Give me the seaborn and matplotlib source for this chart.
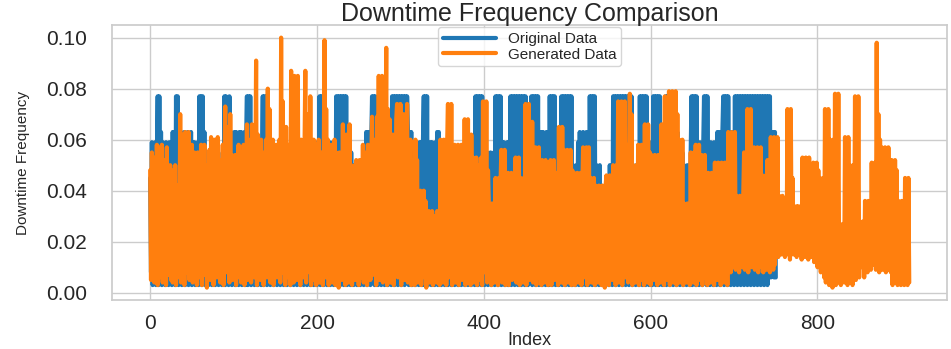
import numpy as np
import pandas as pd
import matplotlib
matplotlib.use("Agg")
import matplotlib.pyplot as plt
import seaborn as sns

# downtime frequency, values in thousandths
original_x1000 = [
    45, 8, 59, 3, 55, 15, 59, 3, 50, 77,
    3, 77, 8, 63, 3, 59, 23, 55, 3, 59,
    8, 50, 3, 59, 15, 45, 3, 63, 8, 63,
    3, 77, 23, 77, 3, 63, 8, 63, 3, 59,
    15, 63, 3, 55, 8, 63, 3, 50, 23, 63,
    3, 59, 8, 59, 3, 55, 15, 59, 3, 77,
    8, 77, 3, 77, 23, 63, 3, 50, 8, 45,
    3, 50, 15, 45, 3, 48, 8, 55, 3, 50,
    23, 55, 3, 50, 8, 45, 3, 55, 15, 77,
    3, 77, 8, 63, 3, 77, 8, 63, 3, 59,
    15, 63, 3, 63, 8, 59, 3, 63, 23, 63,
    3, 55, 8, 63, 3, 59, 77, 3, 77, 15,
    77, 3, 63, 8, 55, 3, 50, 15, 55, 3,
    45, 8, 55, 3, 50, 77, 3, 77, 8, 77,
    3, 50, 15, 45, 3, 50, 8, 38, 3, 45,
    23, 45, 3, 38, 8, 45, 3, 31, 15, 45,
    3, 38, 8, 45, 3, 31, 23, 45, 3, 50,
    8, 45, 3, 50, 15, 38, 3, 50, 8, 45,
    3, 50, 23, 45, 3, 55, 8, 50, 3, 55,
    15, 59, 3, 55, 8, 59, 3, 59, 23, 55,
    3, 59, 8, 77, 3, 77, 15, 77, 3, 59,
    8, 59, 3, 55, 23, 59, 3, 50, 8, 59,
    3, 55, 15, 77, 3, 77, 8, 77, 3, 77,
    23, 77, 3, 77, 8, 77, 3, 55, 15, 50,
    3, 55, 8, 45, 3, 50, 23, 45, 3, 50,
    8, 45, 3, 50, 15, 45, 3, 50, 8, 63,
    3, 63, 23, 63, 3, 59, 77, 8, 77, 3,
    77, 15, 59, 3, 55, 8, 59, 3, 50, 23,
    59, 3, 55, 8, 59, 3, 50, 15, 59, 3,
    77, 8, 77, 3, 77, 23, 77, 3, 77, 8,
    77, 3, 77, 15, 77, 3, 77, 8, 77, 63,
    3, 63, 23, 63, 3, 59, 8, 59, 3, 59,
    15, 55, 3, 59, 8, 59, 3, 59, 77, 3,
    77, 8, 77, 3, 45, 23, 59, 3, 59, 8,
    55, 3, 59, 15, 63, 3, 63, 8, 45, 3,
    50, 23, 45, 3, 50, 8, 45, 3, 55, 15,
    50, 3, 45, 8, 55, 3, 50, 23, 45, 3,
    50, 8, 55, 3, 45, 15, 50, 3, 55, 8,
    45, 3, 50, 23, 55, 3, 45, 8, 50, 3,
    77, 15, 77, 3, 77, 8, 77, 3, 77, 23,
    55, 3, 50, 8, 55, 3, 45, 15, 55, 3,
    50, 8, 55, 3, 77, 23, 77, 3, 77, 8,
    77, 3, 59, 15, 59, 3, 55, 8, 59, 3,
    59, 23, 77, 3, 77, 8, 77, 3, 77, 15,
    77, 3, 77, 8, 77, 3, 77, 23, 77, 3,
    77, 8, 59, 3, 59, 15, 59, 77, 3, 77,
    8, 77, 3, 77, 23, 77, 3, 63, 8, 63,
    3, 63, 15, 59, 3, 63, 8, 63, 3, 77,
    23, 77, 3, 77, 8, 77, 3, 55, 15, 50,
    3, 55, 8, 77, 3, 77, 23, 77, 3, 77,
    8, 77, 3, 77, 15, 77, 3, 50, 8, 45,
    3, 50, 23, 59, 3, 63, 8, 59, 3, 63,
    15, 59, 3, 63, 8, 59, 3, 77, 23, 77,
    3, 77, 8, 77, 3, 50, 15, 45, 3, 50,
    8, 42, 3, 38, 23, 42, 3, 38, 8, 42,
    3, 50, 15, 45, 3, 77, 8, 77, 3, 77,
    23, 77, 3, 77, 8, 77, 3, 77, 15, 77,
    3, 77, 8, 77, 3, 77, 23, 77, 3, 50,
    8, 45, 3, 50, 15, 45, 3, 77, 8, 77,
    3, 77, 23, 77, 3, 77, 8, 59, 3, 55,
    15, 59, 3, 77, 8, 77, 3, 77, 23, 77,
    3, 77, 8, 59, 3, 59, 15, 63, 77, 3,
    77, 8, 77, 3, 59, 23, 63, 3, 59, 8,
    59, 3, 63, 15, 59, 3, 59, 8, 55, 3,
    50, 23, 45, 3, 50, 8, 45, 3, 55, 77,
    3, 77, 15, 77, 3, 77, 8, 55, 3, 59,
    23, 55, 3, 57, 77, 8, 77, 3, 77, 15,
    55, 3, 59, 8, 55, 3, 59, 23, 55, 3,
    63, 8, 63, 3, 59, 15, 63, 77, 3, 77,
    8, 77, 3, 77, 23, 63, 3, 63, 8, 59,
    3, 77, 8, 77, 3, 77, 15, 77, 3, 77,
    8, 77, 3, 77, 23, 77, 3, 77, 8, 77,
    3, 77, 8, 77, 3, 77, 15, 77, 3, 77,
    8, 77, 3, 77, 23, 77, 3, 77, 8, 77,
    3, 77, 8, 77, 6, 63, 8, 63, 6, 63,
    6,
]

generated_x1000 = [
    48, 5, 55, 12, 40, 4, 53, 20, 58, 3,
    57, 6, 45, 15, 58, 4, 38, 9, 52, 3,
    57, 7, 44, 18, 50, 5, 32, 4, 48, 11,
    50, 3, 42, 22, 36, 6, 70, 4, 62, 15,
    45, 3, 63, 8, 55, 20, 63, 5, 40, 12,
    58, 4, 30, 55, 9, 48, 3, 55, 14, 38,
    6, 58, 3, 45, 25, 58, 7, 50, 2, 41,
    18, 56, 5, 61, 11, 47, 3, 60, 22, 35,
    6, 61, 9, 52, 4, 44, 17, 58, 3, 49,
    73, 8, 65, 12, 48, 4, 70, 20, 54, 5,
    50, 9, 54, 3, 42, 16, 58, 6, 37, 4,
    55, 12, 58, 3, 46, 24, 66, 5, 60, 10,
    44, 4, 66, 15, 52, 6, 40, 91, 3, 62,
    20, 58, 5, 60, 9, 47, 3, 55, 18, 60,
    6, 80, 11, 72, 4, 50, 16, 60, 3, 45,
    22, 58, 6, 41, 12, 60, 4, 100, 8, 75,
    20, 52, 3, 65, 14, 58, 6, 47, 3, 87,
    10, 60, 4, 85, 19, 70, 5, 85, 12, 56,
    3, 60, 16, 45, 6, 55, 87, 4, 62, 25,
    70, 8, 77, 3, 50, 17, 60, 5, 44, 3,
    58, 13, 60, 4, 35, 21, 55, 3, 48, 99,
    6, 72, 15, 60, 3, 52, 9, 58, 4, 40,
    17, 60, 3, 55, 8, 47, 2, 55, 20, 38,
    5, 66, 10, 58, 3, 62, 24, 45, 4, 66,
    12, 50, 3, 44, 18, 50, 5, 52, 8, 40,
    3, 52, 22, 46, 6, 58, 4, 55, 13, 48,
    3, 58, 19, 35, 5, 50, 69, 7, 60, 12,
    45, 3, 69, 15, 85, 5, 62, 9, 85, 4,
    70, 20, 50, 96, 3, 72, 11, 68, 4, 55,
    18, 62, 3, 45, 9, 68, 74, 6, 58, 15,
    74, 3, 50, 22, 70, 5, 62, 10, 74, 4,
    48, 16, 60, 3, 52, 8, 45, 3, 60, 12,
    52, 4, 38, 15, 40, 3, 32, 20, 40, 6,
    36, 2, 28, 12, 32, 4, 25, 8, 32, 3,
    30, 15, 22, 4, 32, 10, 28, 3, 60, 9,
    52, 4, 60, 18, 45, 3, 58, 74, 6, 62,
    12, 74, 3, 55, 20, 58, 4, 48, 9, 58,
    3, 52, 16, 58, 5, 40, 8, 68, 3, 55,
    22, 68, 6, 50, 3, 62, 15, 53, 4, 45,
    10, 53, 3, 38, 18, 50, 5, 53, 3, 75,
    8, 70, 15, 75, 4, 48, 35, 9, 30, 3,
    35, 14, 28, 4, 45, 20, 38, 3, 45, 10,
    42, 56, 4, 50, 17, 56, 3, 45, 8, 47,
    3, 40, 12, 47, 5, 35, 20, 42, 53, 4,
    48, 9, 53, 3, 45, 15, 38, 4, 45, 10,
    74, 3, 60, 18, 74, 5, 65, 9, 67, 4,
    55, 14, 57, 3, 50, 20, 57, 6, 45, 3,
    52, 11, 48, 4, 52, 18, 40, 3, 50, 8,
    52, 3, 44, 15, 52, 5, 38, 9, 47, 3,
    65, 12, 58, 4, 65, 20, 56, 3, 50, 10,
    56, 4, 45, 16, 56, 3, 48, 8, 47, 3,
    40, 14, 47, 4, 42, 21, 47, 3, 38, 57,
    6, 50, 15, 57, 3, 48, 57, 9, 45, 4,
    40, 18, 45, 3, 42, 10, 38, 4, 42, 16,
    35, 3, 42, 8, 40, 2, 42, 46, 12, 40,
    3, 46, 20, 38, 5, 50, 9, 45, 3, 50,
    15, 75, 4, 68, 11, 75, 3, 60, 22, 75,
    6, 58, 50, 4, 45, 78, 8, 70, 3, 50,
    17, 45, 4, 50, 12, 58, 3, 52, 20, 58,
    5, 50, 3, 66, 15, 60, 4, 66, 9, 55,
    3, 54, 18, 48, 5, 54, 10, 45, 3, 54,
    20, 50, 4, 66, 8, 60, 3, 77, 14, 66,
    5, 66, 79, 3, 72, 12, 79, 4, 65, 18,
    79, 3, 70, 8, 60, 4, 55, 15, 60, 3,
    35, 20, 30, 4, 35, 12, 28, 3, 55, 16,
    45, 4, 55, 10, 58, 3, 50, 18, 58, 5,
    44, 54, 3, 48, 14, 54, 6, 40, 3, 47,
    20, 42, 4, 47, 9, 38, 3, 51, 15, 45,
    5, 51, 10, 40, 3, 51, 18, 46, 4, 51,
    12, 44, 3, 63, 20, 55, 8, 63, 10, 58,
    14, 63, 9, 38, 12, 30, 8, 38, 16, 33,
    10, 38, 55, 9, 48, 14, 72, 8, 60, 12,
    72, 10, 50, 15, 57, 9, 45, 12, 57, 8,
    50, 14, 57, 10, 46, 8, 40, 13, 46, 9,
    52, 12, 45, 8, 61, 14, 55, 9, 61, 11,
    48, 15, 61, 14, 38, 16, 32, 15, 38, 18,
    30, 14, 36, 16, 72, 15, 60, 13, 72, 16,
    45, 15, 34, 17, 30, 14, 34, 16, 28, 15,
    34, 13, 53, 16, 45, 14, 53, 15, 40, 13,
    53, 16, 40, 14, 35, 51, 12, 45, 15, 51,
    10, 48, 14, 45, 8, 40, 12, 45, 6, 72,
    4, 65, 10, 72, 3, 60, 5, 55, 2, 60,
    8, 78, 3, 70, 12, 78, 4, 27, 3, 25,
    12, 27, 4, 61, 9, 55, 3, 61, 4, 50,
    8, 45, 3, 50, 10, 77, 5, 70, 12, 77,
    6, 28, 10, 25, 14, 28, 6, 36, 12, 30,
    8, 36, 11, 33, 9, 51, 14, 45, 11, 51,
    9, 98, 12, 70, 8, 60, 10, 57, 9, 50,
    12, 57, 8, 45, 10, 57, 9, 52, 8, 52,
    3, 45, 5, 52, 4, 48, 3, 36, 5, 30,
    3, 36, 4, 28, 3, 45, 5, 40, 3, 45,
    4,
]

original = np.array(original_x1000) / 1000
generated = np.array(generated_x1000) / 1000

sns.set_theme(style="whitegrid")
plt.rcParams["font.family"] = ["Liberation Sans", "DejaVu Sans"]

fig, ax = plt.subplots(figsize=(9.51, 3.49), dpi=100)
fig.subplots_adjust(left=0.118, right=0.996, bottom=0.14, top=0.928)

sns.lineplot(x=np.arange(len(original)), y=original, ax=ax,
             label="Original Data", color="#1f77b4", linewidth=3)
sns.lineplot(x=np.arange(len(generated)), y=generated, ax=ax,
             label="Generated Data", color="#ff7f0e", linewidth=3)

ax.set_title("Downtime Frequency Comparison", fontsize=18, pad=3)
ax.set_xlabel("Index", fontsize=13, labelpad=-1)
ax.set_ylabel("Downtime Frequency", fontsize=11, labelpad=12)
ax.tick_params(axis="both", labelsize=15)
ax.tick_params(axis="y", pad=12)
ax.tick_params(axis="x", pad=4)
ax.set_xticks([0, 200, 400, 600, 800])
ax.set_yticks([0.0, 0.02, 0.04, 0.06, 0.08, 0.10])
ax.legend(loc="upper center", fontsize=11, borderaxespad=0.15,
          handlelength=3.5, labelspacing=0.1, borderpad=0.3)

fig.savefig("out.png", dpi=100)
